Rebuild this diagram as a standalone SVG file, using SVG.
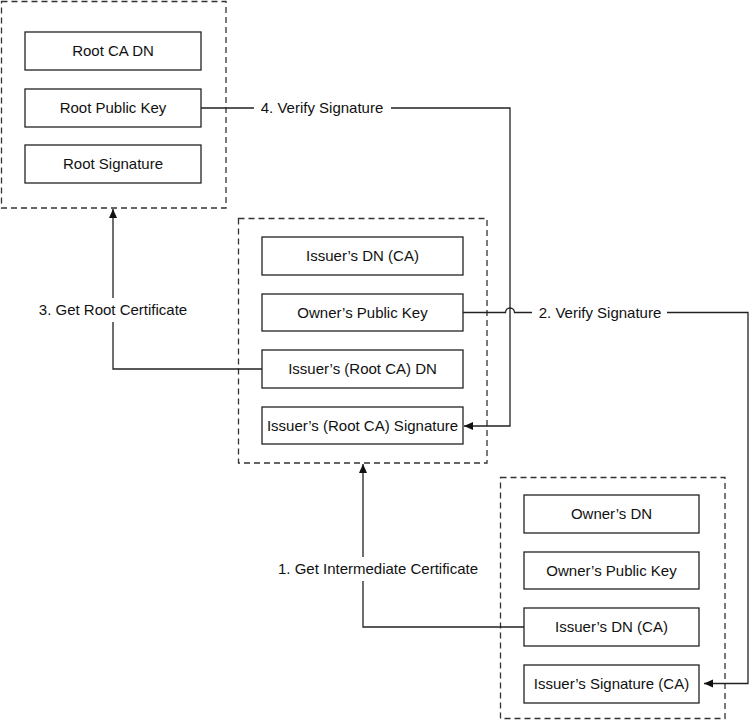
<svg xmlns="http://www.w3.org/2000/svg" width="749" height="722" viewBox="0 0 749 722">
<style>
.bg{fill:#fff}
.grp{fill:none;stroke:#333;stroke-width:1.3;stroke-dasharray:6 4}
.box{fill:#fff;stroke:#222;stroke-width:1.3}
.t{font-family:"Liberation Sans",Arial,sans-serif;font-size:15px;fill:#111;text-anchor:middle}
.ln{fill:none;stroke:#222;stroke-width:1.3}
.lbl{fill:#fff;stroke:none}
</style>
<defs>
<marker id="ah" markerWidth="10" markerHeight="10" refX="9" refY="5" orient="auto" markerUnits="userSpaceOnUse">
<path d="M0,1 L9,5 L0,9 Z" fill="#111"/>
</marker>
</defs>
<rect class="bg" width="749" height="722"/>

<g id="root-cert">
<rect class="grp" x="1.5" y="1.5" width="224.5" height="206.5"/>
<g id="root-ca-dn"><rect class="box" x="25" y="32" width="176" height="38"/><text class="t" x="113" y="56">Root CA DN</text></g>
<g id="root-public-key"><rect class="box" x="25" y="89" width="176" height="38"/><text class="t" x="113" y="113">Root Public Key</text></g>
<g id="root-signature"><rect class="box" x="25" y="145" width="176" height="38"/><text class="t" x="113" y="169">Root Signature</text></g>
</g>

<g id="intermediate-cert">
<rect class="grp" x="238.5" y="218.5" width="248.5" height="244.5"/>
<g id="int-issuer-dn"><rect class="box" x="262" y="237" width="201" height="38"/><text class="t" x="362.5" y="261">Issuer’s DN (CA)</text></g>
<g id="int-owner-key"><rect class="box" x="262" y="294" width="201" height="37"/><text class="t" x="362.5" y="318">Owner’s Public Key</text></g>
<g id="int-root-dn"><rect class="box" x="262" y="350" width="201" height="38"/><text class="t" x="362.5" y="374">Issuer’s (Root CA) DN</text></g>
<g id="int-root-sig"><rect class="box" x="262" y="407" width="201" height="37"/><text class="t" x="362.5" y="431">Issuer’s (Root  CA) Signature</text></g>
</g>

<g id="end-cert">
<rect class="grp" x="500.5" y="477.5" width="224.5" height="241"/>
<g id="end-owner-dn"><rect class="box" x="524" y="495" width="175" height="38"/><text class="t" x="611.5" y="519">Owner’s DN</text></g>
<g id="end-owner-key"><rect class="box" x="524" y="552" width="175" height="37"/><text class="t" x="611.5" y="576">Owner’s Public Key</text></g>
<g id="end-issuer-dn"><rect class="box" x="524" y="608" width="175" height="38"/><text class="t" x="611.5" y="632">Issuer’s DN (CA)</text></g>
<g id="end-issuer-sig"><rect class="box" x="524" y="665" width="175" height="38"/><text class="t" x="611.5" y="689">Issuer’s Signature (CA)</text></g>
</g>

<g id="connectors">
<!-- 1. Get Intermediate Certificate -->
<path class="ln" d="M524,627 H363 V464" marker-end="url(#ah)"/>
<rect class="lbl" x="272" y="557" width="212" height="24"/>
<text class="t" x="378" y="574">1. Get Intermediate Certificate</text>

<!-- 2. Verify Signature -->
<path class="ln" d="M463,312.5 H505.5 A4.5,4.5 0 0 1 514.5,312.5 H748 V683.5 H704" marker-end="url(#ah)"/>
<rect class="lbl" x="532" y="300" width="135" height="24"/>
<text class="t" x="600" y="318">2. Verify Signature</text>

<!-- 3. Get Root Certificate -->
<path class="ln" d="M262,369 H113 V209" marker-end="url(#ah)"/>
<rect class="lbl" x="34" y="298" width="158" height="24"/>
<text class="t" x="113" y="315">3. Get Root Certificate</text>

<!-- 4. Verify Signature -->
<path class="ln" d="M201,108 H510 V426 H464" marker-end="url(#ah)"/>
<rect class="lbl" x="254" y="96" width="137" height="24"/>
<text class="t" x="322" y="113">4. Verify Signature</text>
</g>
</svg>
